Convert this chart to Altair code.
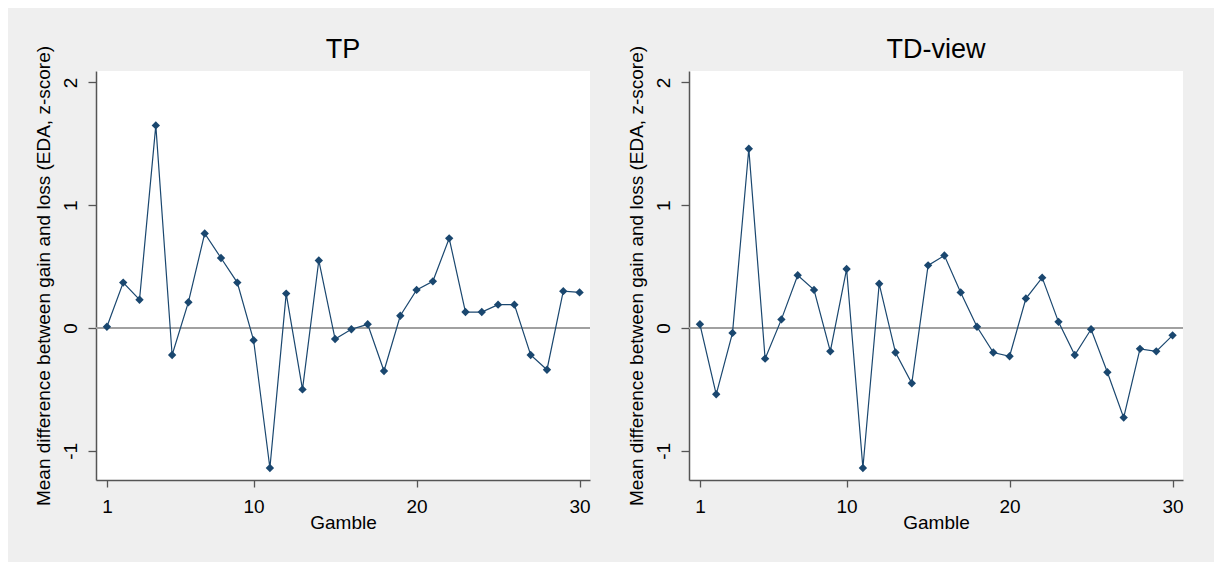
import altair as alt
import pandas as pd

gamble = [1, 2, 3, 4, 5, 6, 7, 8, 9, 10, 11, 12, 13, 14, 15,
          16, 17, 18, 19, 20, 21, 22, 23, 24, 25, 26, 27, 28, 29, 30]
tp = [0.01, 0.37, 0.23, 1.65, -0.22, 0.21, 0.77, 0.57, 0.37, -0.10,
      -1.14, 0.28, -0.50, 0.55, -0.09, -0.01, 0.03, -0.35, 0.10, 0.31,
      0.38, 0.73, 0.13, 0.13, 0.19, 0.19, -0.22, -0.34, 0.30, 0.29]
td_view = [0.03, -0.54, -0.04, 1.46, -0.25, 0.07, 0.43, 0.31, -0.19, 0.48,
           -1.14, 0.36, -0.20, -0.45, 0.51, 0.59, 0.29, 0.01, -0.20, -0.23,
           0.24, 0.41, 0.05, -0.22, -0.01, -0.36, -0.73, -0.17, -0.19, -0.06]
panel_titles = ["TP", "TD-view"]
x_ticks = [1, 10, 20, 30]
y_ticks = [-1, 0, 1, 2]
y_title = "Mean difference between gain and loss (EDA, z-score)"
x_title = "Gamble"

FONT = "Liberation Sans"
NAVY = "#1a476f"


def panel(values, title):
    df = pd.DataFrame({"gamble": gamble, "value": values})
    x = alt.X("gamble:Q",
              scale=alt.Scale(domain=[0.33, 30.64], nice=False, zero=False),
              axis=alt.Axis(values=x_ticks, title=x_title, labelAngle=0,
                            labelExpr="datum.value + ''",
                            tickSize=7, labelPadding=10, titlePadding=-3))
    y = alt.Y("value:Q",
              scale=alt.Scale(domain=[-1.238, 2.093], nice=False, zero=False),
              axis=alt.Axis(values=y_ticks, title=y_title, labelAngle=270,
                            labelExpr="datum.value + ''",
                            labelAlign="center", labelBaseline="bottom",
                            tickSize=8, labelPadding=8, titlePadding=8))
    base = alt.Chart(df)
    zero = base.mark_rule(color="#a0a0a0", strokeWidth=1).encode(y=alt.datum(0))
    line = base.mark_line(color=NAVY, strokeWidth=1.2).encode(x=x, y=y)
    pts = base.mark_point(shape="diamond", filled=True, size=70, opacity=1,
                          color=NAVY).encode(x=x, y=y)
    return alt.layer(zero, line, pts).properties(
        width=494, height=409,
        title=alt.TitleParams(title, fontSize=27, font=FONT,
                              fontWeight="normal", color="#000000",
                              offset=-19, anchor="middle", frame="group"))


chart = alt.hconcat(panel(tp, panel_titles[0]), panel(td_view, panel_titles[1]),
                    spacing=36).properties(
    background="#efefef",
    padding={"left": 26, "top": 28, "right": 30, "bottom": 30},
).configure_view(
    fill="white", stroke=None
).configure_axis(
    grid=False,
    labelFont=FONT, titleFont=FONT,
    labelFontSize=19, titleFontSize=19,
    titleFontWeight="normal",
    labelColor="#000000", titleColor="#000000",
    domainColor="#555555", tickColor="#555555",
    domainWidth=1.5, tickWidth=1.3,
)

chart.save("out.html", embed_options={"renderer": "svg", "actions": False})
